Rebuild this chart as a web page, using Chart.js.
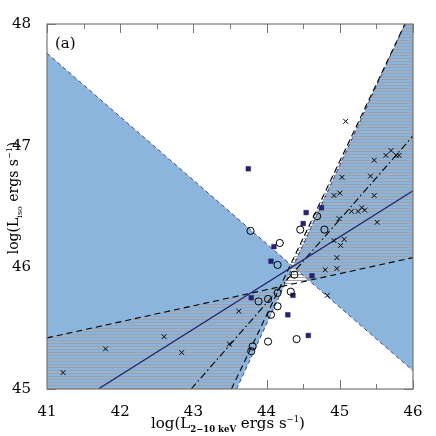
<!DOCTYPE html>
<html><head><meta charset="utf-8">
<script src="https://cdn.jsdelivr.net/npm/chart.js@4/dist/chart.umd.min.js"></script>
<style>html,body{margin:0;padding:0;background:#fff}</style>
</head><body>
<canvas id="c" width="436" height="436"></canvas>
<script>
// ---- data ----
const xTickValues = [41, 42, 43, 44, 45, 46];
const yTickValues = [45, 46, 47, 48];

const crossX = [41.22, 41.80, 42.60, 42.84, 43.49, 43.62, 44.80, 44.83, 44.92, 44.96, 44.96, 44.99, 45.01, 45.06, 45.51, 45.16, 45.25, 45.30, 45.34, 44.92, 45.00, 45.47, 45.03, 45.42, 45.47, 45.63, 45.70, 45.77, 45.81, 45.08];
const crossY = [45.135, 45.33, 45.43, 45.30, 45.37, 45.64, 45.98, 45.77, 46.22, 45.99, 46.08, 46.40, 46.18, 46.23, 46.37, 46.46, 46.46, 46.49, 46.47, 46.59, 46.61, 46.59, 46.74, 46.75, 46.88, 46.92, 46.96, 46.92, 46.92, 47.20];

const circleX = [43.78, 44.18, 44.15, 44.46, 44.69, 44.79, 44.38, 44.33, 43.89, 44.02, 44.15, 44.15, 44.06, 44.02, 44.41, 43.81, 43.79];
const circleY = [46.30, 46.20, 46.02, 46.31, 46.42, 46.31, 45.94, 45.80, 45.72, 45.74, 45.79, 45.68, 45.61, 45.39, 45.41, 45.35, 45.31];

const squareX = [43.75, 44.54, 44.75, 44.50, 44.10, 44.06, 44.62, 43.79, 44.36, 44.29, 44.57];
const squareY = [46.81, 46.45, 46.49, 46.36, 46.17, 46.05, 45.93, 45.75, 45.77, 45.61, 45.44];

const blueLeftX = [41, 44.36, 43.59, 41];
const blueLeftY = [47.76, 46.006, 45, 45];
const blueRightX = [44.36, 45.89, 46, 46];
const blueRightY = [46.006, 48, 48, 45.15];
const hatchLeftX = [41, 44.18, 43.52, 41];
const hatchLeftY = [45.42, 45.84, 45, 45];
const hatchRightX = [44.18, 45.89, 46, 46];
const hatchRightY = [45.84, 48, 48, 46.08];

const solidFitX = [41.70, 46];
const solidFitY = [45, 46.63];
const dashDotFitX = [42.97, 46];
const dashDotFitY = [45, 47.08];
const shallowDashX = [41, 46];
const shallowDashY = [45.42, 46.08];
const steepDashX = [43.52, 45.89];
const steepDashY = [45, 48];
const edgeDescX = [41, 46];
const edgeDescY = [47.76, 45.15];
const edgeSteepX = [43.59, 45.89];
const edgeSteepY = [45, 48];

const panelLabel = '(a)';

// ---- helpers ----
const pts = (xs, ys) => xs.map((x, i) => ({x: x, y: ys[i]}));
const NAVY = '#22226e';
const BLUE = '#8cb5dd';
const HATCH = 'rgb(160,160,165)';

function lineDS(xs, ys, color, dash, w) {
  return {data: pts(xs, ys), showLine: true, fill: false, borderColor: color,
          borderWidth: w, borderDash: dash, pointRadius: 0, tension: 0};
}

const SERIF = '"DejaVu Serif", "Liberation Serif", serif';

function polyPath(ctx, x, y, xs, ys) {
  ctx.beginPath();
  xs.forEach((v, i) => {
    const px = x.getPixelForValue(v), py = y.getPixelForValue(ys[i]);
    if (i === 0) ctx.moveTo(px, py); else ctx.lineTo(px, py);
  });
  ctx.closePath();
}

const decor = {
  id: 'decor',
  beforeDatasetsDraw(chart) {
    const {ctx, chartArea: a, scales: {x, y}} = chart;
    ctx.save();
    ctx.strokeStyle = '#777';
    ctx.lineWidth = 1;
    ctx.beginPath();
    for (let v = 41; v <= 46.001; v += 0.5) {
      const px = Math.round(x.getPixelForValue(v)) + 0.5;
      const L = Math.abs(v - Math.round(v)) < 1e-6 ? 9 : 5;
      ctx.moveTo(px, a.top); ctx.lineTo(px, a.top + L);
      ctx.moveTo(px, a.bottom); ctx.lineTo(px, a.bottom - L);
    }
    for (let v = 45; v <= 48.001; v += 0.5) {
      const py = Math.round(y.getPixelForValue(v)) + 0.5;
      const L = Math.abs(v - Math.round(v)) < 1e-6 ? 9 : 5;
      ctx.moveTo(a.left, py); ctx.lineTo(a.left + L, py);
      ctx.moveTo(a.right, py); ctx.lineTo(a.right - L, py);
    }
    ctx.stroke();
    ctx.beginPath();
    ctx.rect(a.left, a.top, a.right - a.left, a.bottom - a.top);
    ctx.clip();
    ctx.fillStyle = BLUE;
    polyPath(ctx, x, y, blueLeftX, blueLeftY); ctx.fill();
    polyPath(ctx, x, y, blueRightX, blueRightY); ctx.fill();
    [[hatchLeftX, hatchLeftY], [hatchRightX, hatchRightY]].forEach(([xs, ys]) => {
      ctx.save();
      polyPath(ctx, x, y, xs, ys);
      ctx.clip();
      ctx.fillStyle = HATCH;
      for (let py = Math.floor(a.top) + 1; py <= a.bottom; py += 3) {
        ctx.fillRect(a.left, py, a.right - a.left, 1);
      }
      ctx.restore();
    });
    ctx.restore();
  },
  afterDatasetsDraw(chart) {
    const {ctx, chartArea: a} = chart;
    ctx.save();
    ctx.strokeStyle = '#777';
    ctx.lineWidth = 1.2;
    ctx.strokeRect(a.left, a.top, a.right - a.left, a.bottom - a.top);
    ctx.restore();
  },
  afterDraw(chart) {
    const {ctx, chartArea: a} = chart;
    ctx.save();
    ctx.fillStyle = '#000';
    ctx.textBaseline = 'alphabetic';
    ctx.font = '15px ' + SERIF;
    ctx.fillText(panelLabel, a.left + 8, a.top + 24);

    function drawRich(pieces, cx, cy, rotate) {
      ctx.save();
      ctx.translate(cx, cy);
      if (rotate) ctx.rotate(-Math.PI / 2);
      let total = 0;
      pieces.forEach(p => { ctx.font = (p[3] || '') + p[1] + 'px ' + SERIF; total += ctx.measureText(p[0]).width; });
      let xx = -total / 2;
      pieces.forEach(p => {
        ctx.font = (p[3] || '') + p[1] + 'px ' + SERIF;
        ctx.fillText(p[0], xx, p[2]);
        xx += ctx.measureText(p[0]).width;
      });
      ctx.restore();
    }
    drawRich([['log(L', 15, 0], ['2\u221210 keV', 8.5, 4, 'bold '], [' ergs s', 15, 0], ['\u22121', 8.5, -6], [')', 15, 0]],
             (a.left + a.right) / 2 - 2, 428, false);
    drawRich([['log(L', 14, 0], ['iso', 8, 4], [' ergs s', 14, 0], ['\u22121', 8, -6], [')', 14, 0]],
             18, 198, true);
    ctx.restore();
  }
};

new Chart(document.getElementById('c'), {
  type: 'scatter',
  data: {
    datasets: [
      {label: 'cross', data: pts(crossX, crossY), pointStyle: 'crossRot', pointRadius: 3.4,
       borderColor: '#000', borderWidth: 1, backgroundColor: '#000'},
      {label: 'circle', data: pts(circleX, circleY), pointStyle: 'circle', pointRadius: 3.6,
       borderColor: '#000', borderWidth: 1, backgroundColor: 'rgba(0,0,0,0)'},
      {label: 'square', data: pts(squareX, squareY), pointStyle: 'rect', pointRadius: 3.3,
       borderColor: NAVY, borderWidth: 0.5, backgroundColor: NAVY},
      lineDS(solidFitX, solidFitY, NAVY, [], 1.3),
      lineDS(dashDotFitX, dashDotFitY, '#000', [7, 3, 1.5, 3], 1.1),
      lineDS(shallowDashX, shallowDashY, '#000', [6, 4], 1.1),
      lineDS(steepDashX, steepDashY, '#000', [6, 4], 1.1),
      lineDS(edgeDescX, edgeDescY, NAVY, [4, 3], 0.8),
      lineDS(edgeSteepX, edgeSteepY, NAVY, [4, 3], 0.8)
    ]
  },
  options: {
    responsive: false,
    devicePixelRatio: 1,
    animation: false,
    events: [],
    layout: {padding: {top: 24, right: 23, left: 0, bottom: 0}},
    plugins: {legend: {display: false}, tooltip: {enabled: false}, title: {display: false}},
    scales: {
      x: {
        type: 'linear', min: 41, max: 46,
        grid: {display: false}, border: {display: false},
        afterBuildTicks: s => { s.ticks = xTickValues.map(v => ({value: v})); },
        ticks: {color: '#000', font: {family: SERIF, size: 15}, padding: 6, maxRotation: 0, autoSkip: false},
        afterFit: s => { s.height = 47; }
      },
      y: {
        type: 'linear', min: 45, max: 48,
        grid: {display: false}, border: {display: false},
        afterBuildTicks: s => { s.ticks = yTickValues.map(v => ({value: v})); },
        ticks: {color: '#000', font: {family: SERIF, size: 15}, padding: 8, autoSkip: false},
        afterFit: s => { s.width = 47; }
      }
    }
  },
  plugins: [decor]
});
</script>
</body></html>
